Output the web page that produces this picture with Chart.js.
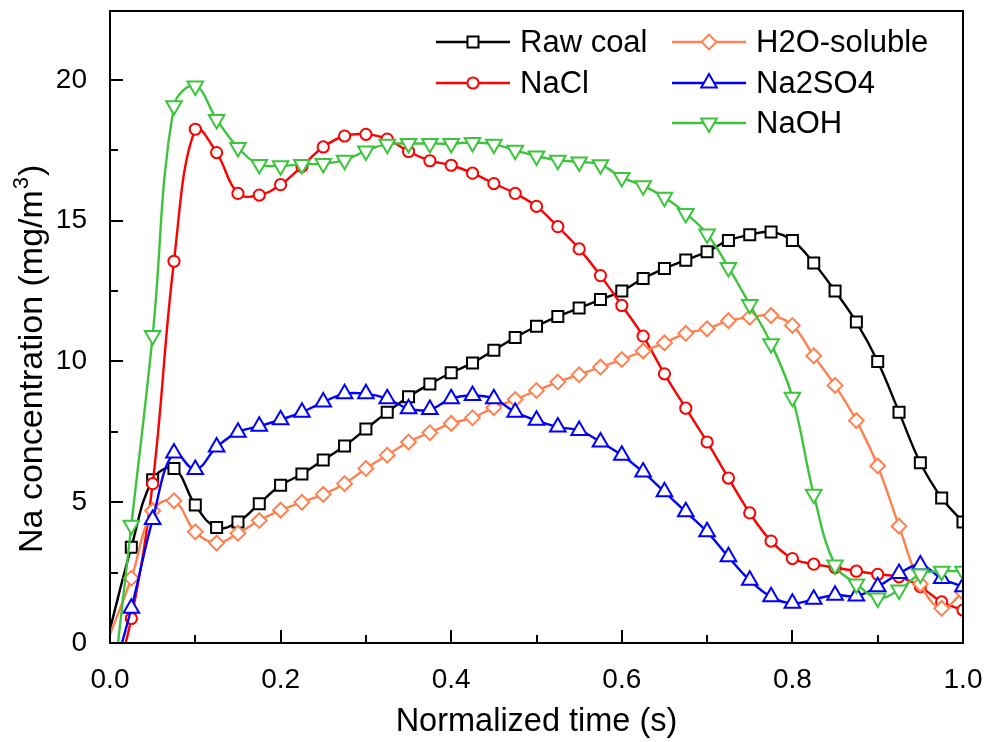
<!DOCTYPE html>
<html>
<head>
<meta charset="utf-8">
<script src="https://cdn.jsdelivr.net/npm/chart.js@4.4.1/dist/chart.umd.min.js"></script>
<style>
  html, body { margin: 0; padding: 0; background: #fff; }
  #wrap { width: 987px; height: 742px; }
</style>
</head>
<body>
<div id="wrap"><canvas id="c" width="987" height="742"></canvas></div>
<script>
// ---- data ----
const timeValues = [0, 0.025, 0.05, 0.075, 0.1, 0.125, 0.15, 0.175, 0.2, 0.225, 0.25, 0.275, 0.3, 0.325, 0.35, 0.375, 0.4, 0.425, 0.45, 0.475, 0.5, 0.525, 0.55, 0.575, 0.6, 0.625, 0.65, 0.675, 0.7, 0.725, 0.75, 0.775, 0.8, 0.825, 0.85, 0.875, 0.9, 0.925, 0.95, 0.975, 1.0];
const rawCoal = [0.5, 3.4, 5.8, 6.2, 4.9, 4.1, 4.3, 4.95, 5.6, 6.0, 6.5, 7.0, 7.6, 8.2, 8.75, 9.2, 9.6, 9.95, 10.4, 10.85, 11.25, 11.6, 11.9, 12.2, 12.5, 12.95, 13.3, 13.6, 13.9, 14.3, 14.5, 14.6, 14.3, 13.5, 12.5, 11.4, 10.0, 8.2, 6.4, 5.15, 4.3];
const naCl = [-2.0, 0.87, 5.66, 13.56, 18.25, 17.42, 15.97, 15.91, 16.28, 16.93, 17.62, 18.01, 18.07, 17.9, 17.46, 17.13, 16.97, 16.69, 16.32, 15.97, 15.51, 14.79, 14.0, 13.05, 11.99, 10.9, 9.56, 8.34, 7.14, 5.86, 4.62, 3.62, 3.0, 2.8, 2.68, 2.55, 2.44, 2.35, 2.0, 1.46, 1.17];
const h2oSoluble = [0.3, 2.3, 4.7, 5.05, 3.95, 3.55, 3.9, 4.35, 4.72, 5.0, 5.28, 5.66, 6.2, 6.67, 7.14, 7.47, 7.8, 8.0, 8.36, 8.65, 8.97, 9.27, 9.53, 9.8, 10.07, 10.37, 10.66, 11.0, 11.16, 11.45, 11.57, 11.63, 11.28, 10.2, 9.15, 7.9, 6.29, 4.15, 2.1, 1.23, 1.8];
const na2so4 = [-1.5, 1.23, 4.39, 6.75, 6.16, 6.96, 7.49, 7.7, 7.93, 8.2, 8.56, 8.85, 8.85, 8.68, 8.32, 8.29, 8.68, 8.79, 8.68, 8.2, 7.91, 7.67, 7.55, 7.14, 6.67, 6.07, 5.37, 4.66, 3.95, 3.06, 2.23, 1.64, 1.41, 1.55, 1.7, 1.67, 2.0, 2.47, 2.77, 2.29, 2.0];
const naOH = [-2.5, 4.18, 10.92, 19.08, 19.79, 18.6, 17.6, 17.0, 16.95, 17.0, 17.03, 17.15, 17.48, 17.72, 17.74, 17.74, 17.74, 17.78, 17.72, 17.5, 17.3, 17.15, 17.09, 16.99, 16.54, 16.24, 15.83, 15.26, 14.53, 13.34, 12.02, 10.63, 8.73, 5.28, 2.77, 2.1, 1.6, 1.88, 2.45, 2.55, 2.55];
const seriesNames = ['Raw coal', 'NaCl', 'H2O-soluble', 'Na2SO4', 'NaOH'];
const xTickValues = [0, 0.2, 0.4, 0.6, 0.8, 1.0];
const xMinorValues = [0.1, 0.3, 0.5, 0.7, 0.9];
const yTickValues = [0, 5, 10, 15, 20];
const yMinorValues = [2.5, 7.5, 12.5, 17.5];
const xTitle = 'Normalized time (s)';
const yTitleParts = ['Na concentration (mg/m', '3', ')'];

// ---- styles ----
const FONT = "'Liberation Sans', Arial, Helvetica, sans-serif";
const styles = [
  { color: '#000000', pointStyle: 'rect',    radius: 7.8, rotation: 0 },
  { color: '#FF0000', pointStyle: 'circle',  radius: 5.6, rotation: 0 },
  { color: '#FF8050', pointStyle: 'rectRot', radius: 7.4, rotation: 0 },
  { color: '#0000FF', pointStyle: 'triangle',radius: 9.0, rotation: 0 },
  { color: '#3CC43C', pointStyle: 'triangle',radius: 9.0, rotation: 180 }
];
const allSeries = [rawCoal, naCl, h2oSoluble, na2so4, naOH];

const datasets = allSeries.map((vals, i) => ({
  label: seriesNames[i],
  data: timeValues.map((t, k) => ({ x: t, y: vals[k] })),
  borderColor: styles[i].color,
  backgroundColor: '#ffffff',
  borderWidth: 2.4,
  pointStyle: styles[i].pointStyle,
  pointRotation: styles[i].rotation,
  pointRadius: (ctx) => ctx.dataIndex === 0 ? 0 : styles[i].radius,
  pointBorderWidth: 2,
  pointBorderColor: styles[i].color,
  pointBackgroundColor: '#ffffff',
  tension: 0.4,
  order: 5 - i
}));

const frameTicks = {
  id: 'frameTicks',
  afterDatasetsDraw(chart) {
    const { ctx, chartArea: a, scales: { x, y } } = chart;
    ctx.save();
    ctx.strokeStyle = '#000';
    ctx.lineWidth = 2;
    ctx.beginPath();
    xTickValues.forEach(v => { const px = Math.round(x.getPixelForValue(v)); ctx.moveTo(px, a.bottom); ctx.lineTo(px, a.bottom - 13); });
    xMinorValues.forEach(v => { const px = Math.round(x.getPixelForValue(v)); ctx.moveTo(px, a.bottom); ctx.lineTo(px, a.bottom - 8); });
    yTickValues.forEach(v => { const py = Math.round(y.getPixelForValue(v)); ctx.moveTo(a.left, py); ctx.lineTo(a.left + 13, py); });
    yMinorValues.forEach(v => { const py = Math.round(y.getPixelForValue(v)); ctx.moveTo(a.left, py); ctx.lineTo(a.left + 8, py); });
    ctx.stroke();
    ctx.strokeRect(a.left, a.top, a.right - a.left, a.bottom - a.top);
    ctx.restore();
  }
};

const yTitlePlugin = {
  id: 'yTitlePlugin',
  afterDraw(chart) {
    const { ctx } = chart;
    ctx.save();
    ctx.translate(42, 553);
    ctx.rotate(-Math.PI / 2);
    ctx.fillStyle = '#000';
    ctx.textBaseline = 'alphabetic';
    ctx.textAlign = 'left';
    ctx.font = '34px ' + FONT;
    let xpos = 0;
    ctx.fillText(yTitleParts[0], xpos, 0);
    xpos += ctx.measureText(yTitleParts[0]).width + 1;
    ctx.font = '22px ' + FONT;
    ctx.fillText(yTitleParts[1], xpos, -14);
    xpos += ctx.measureText(yTitleParts[1]).width + 1;
    ctx.font = '34px ' + FONT;
    ctx.fillText(yTitleParts[2], xpos, 0);
    ctx.restore();
  }
};

const customLegend = {
  id: 'customLegend',
  afterDraw(chart) {
    const { ctx, chartArea: a } = chart;
    const cols = [
      { x0: a.left + 326, items: [0, 1] },
      { x0: a.left + 562, items: [2, 3, 4] }
    ];
    const rowY = [a.top + 31, a.top + 72, a.top + 112];
    const lineLen = 74;
    ctx.save();
    ctx.font = '31px ' + FONT;
    ctx.textBaseline = 'middle';
    ctx.textAlign = 'left';
    cols.forEach(col => {
      col.items.forEach((idx, r) => {
        const y = rowY[r];
        const s = styles[idx];
        ctx.strokeStyle = s.color;
        ctx.lineWidth = 2.4;
        ctx.beginPath();
        ctx.moveTo(col.x0, y);
        ctx.lineTo(col.x0 + lineLen, y);
        ctx.stroke();
        ctx.fillStyle = '#fff';
        ctx.lineWidth = 2;
        Chart.helpers.drawPoint(ctx, { pointStyle: s.pointStyle, rotation: s.rotation, radius: s.radius, borderWidth: 2 }, col.x0 + lineLen / 2, y);
        ctx.fillStyle = '#000';
        ctx.fillText(seriesNames[idx], col.x0 + lineLen + 10, y + 1);
      });
    });
    ctx.restore();
  }
};

function zeroPad(s) { s.paddingTop = 0; s.paddingBottom = 0; s.paddingLeft = 0; s.paddingRight = 0; }

new Chart(document.getElementById('c'), {
  type: 'line',
  data: { datasets },
  options: {
    responsive: false,
    animation: false,
    events: [],
    layout: { padding: { top: 10, right: 24, left: 0, bottom: 0 } },
    plugins: { legend: { display: false }, tooltip: { enabled: false } },
    scales: {
      x: {
        type: 'linear', min: 0, max: 1,
        afterFit(s) { s.height = 99; zeroPad(s); },
        afterBuildTicks(s) { s.ticks = xTickValues.map(v => ({ value: v })); },
        ticks: { callback: v => Number(v).toFixed(1), font: { size: 28, family: FONT }, color: '#000', padding: 12, maxRotation: 0, autoSkip: false },
        grid: { display: false },
        border: { display: false },
        title: { display: true, text: xTitle, font: { size: 32.5, family: FONT }, color: '#000', padding: { top: 0, bottom: 0 } }
      },
      y: {
        type: 'linear', min: 0, max: 22.45,
        afterFit(s) { s.width = 110; zeroPad(s); },
        afterBuildTicks(s) { s.ticks = yTickValues.map(v => ({ value: v })); },
        ticks: { callback: v => String(v), font: { size: 28, family: FONT }, color: '#000', padding: 15, autoSkip: false },
        grid: { display: false },
        border: { display: false },
        title: { display: false }
      }
    }
  },
  plugins: [frameTicks, yTitlePlugin, customLegend]
});
</script>
</body>
</html>
